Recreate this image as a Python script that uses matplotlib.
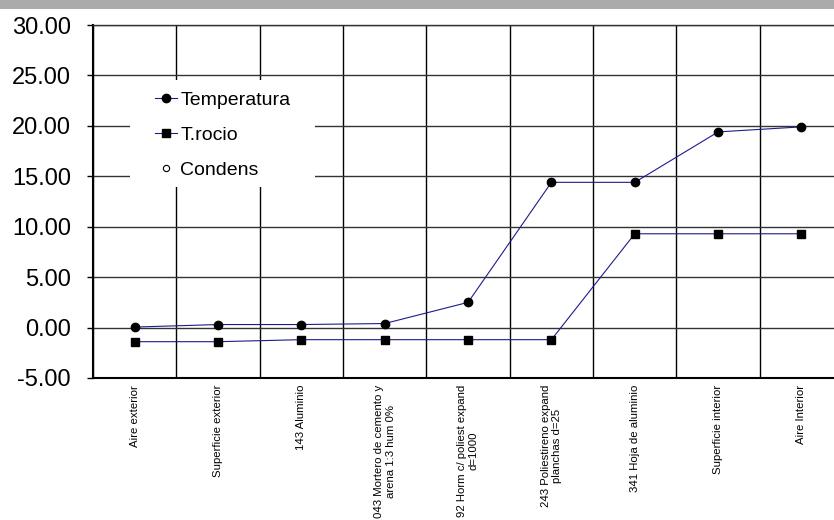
import numpy as np
import matplotlib
matplotlib.use("Agg")
import matplotlib.pyplot as plt
from matplotlib.patches import Rectangle
from matplotlib.lines import Line2D

plt.rcParams['font.family'] = ['Liberation Sans', 'DejaVu Sans']

# capas del cerramiento
capas = ["Aire exterior",
         "Superficie exterior",
         "143 Aluminio",
         "043 Mortero de cemento y\narena 1:3 hum 0%",
         "92 Horm c/ poliest expand\nd=1000",
         "243 Poliestireno expand\nplanchas d=25",
         "341 Hoja de aluminio",
         "Superficie interior",
         "Aire Interior"]
temperatura = [0.05, 0.3, 0.3, 0.4, 2.5, 14.4, 14.4, 19.4, 19.9]
t_rocio = [-1.4, -1.4, -1.2, -1.2, -1.2, -1.2, 9.3, 9.3, 9.3]
condens = []  # no hay condensaciones
y_ticks = [-5, 0, 5, 10, 15, 20, 25, 30]

W, H = 834, 520
fig = plt.figure(figsize=(W / 100, H / 100), dpi=100)

# banda gris de arriba
fig.patches.append(Rectangle((0, 1 - 9 / H), 1, 9 / H, transform=fig.transFigure,
                             facecolor='#ababab', edgecolor='none'))

x0, x1 = 93, 93 + 9 * 83.35
y_top, y_bot = 25, 378
ax = fig.add_axes([x0 / W, 1 - y_bot / H, (x1 - x0) / W, (y_bot - y_top) / H])

x = np.arange(len(capas))
ax.plot(x, temperatura, color='#1c1c8c', lw=0.8, marker='o', ms=6,
        mfc='black', mec='black', zorder=3)
ax.plot(x, t_rocio, color='#1c1c8c', lw=0.8, marker='s', ms=5.5,
        mfc='black', mec='black', zorder=3)

ax.set_xlim(-0.5, len(capas) - 0.5)
ax.set_ylim(-5, 30)
ax.set_yticks(y_ticks)
ax.set_yticklabels(["%.2f" % v for v in y_ticks], fontsize=17)
ax.set_xticks(x)
ax.set_xticklabels(capas, rotation=90, fontsize=8.2, va='top', ha='center',
                   multialignment='center')
ax.set_xticks(np.arange(len(capas) + 1) - 0.5, minor=True)

ax.tick_params(axis='y', length=4, width=1, direction='out', pad=12)
ax.tick_params(axis='x', which='both', length=0, pad=5)
ax.set_axisbelow(True)
ax.grid(axis='y', which='major', color='#333333', lw=1)
ax.grid(axis='x', which='minor', color='black', lw=1)
ax.spines['right'].set_visible(False)
ax.spines['top'].set_linewidth(1)
ax.spines['top'].set_color('#333333')
ax.spines['left'].set_linewidth(1.5)
ax.spines['bottom'].set_linewidth(1.5)

# caja blanca de la leyenda
ax.add_patch(Rectangle((130 / W, 1 - 187 / H), 185 / W, 107 / H,
                       transform=fig.transFigure, facecolor='white',
                       edgecolor='none', zorder=1))
handles = [Line2D([], [], color='#1c1c8c', lw=0.8, marker='o', ms=6, mfc='black', mec='black'),
           Line2D([], [], color='#1c1c8c', lw=0.8, marker='s', ms=5.5, mfc='black', mec='black'),
           Line2D([], [], ls='none', marker='o', ms=4.5, mfc='white', mec='black', mew=0.8)]
ax.legend(handles, ["Temperatura", "T.rocio", "Condens"], loc='upper left',
          bbox_to_anchor=(155 / W, 1 - 91 / H), bbox_transform=fig.transFigure,
          frameon=False, fontsize=14, handlelength=1.15, handletextpad=0.15,
          labelspacing=0.9, borderpad=0, borderaxespad=0)

fig.savefig("out.png", dpi=100)
